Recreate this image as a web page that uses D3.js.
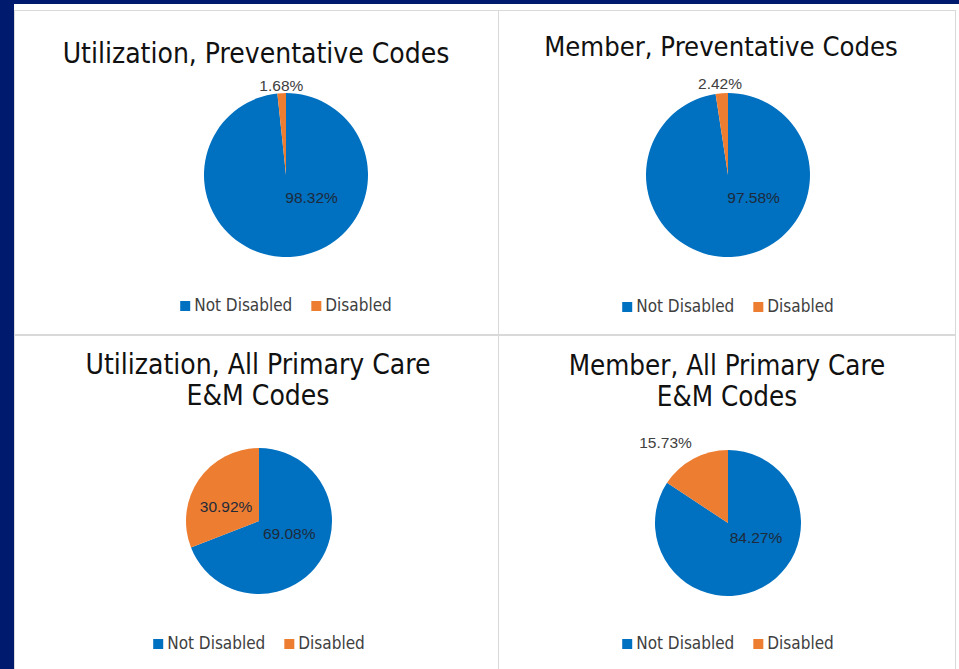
<!DOCTYPE html>
<html>
<head>
<meta charset="utf-8">
<script src="https://cdn.jsdelivr.net/npm/d3@7"></script>
<style>
  html, body { margin: 0; padding: 0; background: #001a6e; }
  svg { display: block; }
</style>
</head>
<body>
<script>
// four pie charts, disabled vs not disabled members

var categories = ["Not Disabled", "Disabled"];
var titles = [
    ["Utilization, Preventative Codes"],
    ["Member, Preventative Codes"],
    ["Utilization, All Primary Care", "E&M Codes"],
    ["Member, All Primary Care", "E&M Codes"]
];
var notDisabled = [98.32, 97.58, 69.08, 84.27];
var disabled = [1.68, 2.42, 30.92, 15.73];

var colors = ["#0070c0", "#ed7d31"];
var width = 959;
var height = 669;

// panel frames and pie placement
var panels = [
    { x: 14, y: 10, w: 484, h: 324, cx: 286, cy: 175, r: 82, titleX: 256, titleY: 63, titleSize: 28, legendY: 305,
      labels: [[132, 0.42], [357, 1.09]] },
    { x: 498, y: 10, w: 457, h: 324, cx: 728, cy: 175, r: 82, titleX: 721, titleY: 56, titleSize: 27.2, legendY: 306,
      labels: [[132, 0.42], [355, 1.12]] },
    { x: 14, y: 335, w: 484, h: 334, cx: 259, cy: 521, r: 73, titleX: 258, titleY: 374, titleSize: 28, legendY: 643,
      labels: [[113, 0.45], [293, 0.49]] },
    { x: 498, y: 335, w: 457, h: 334, cx: 728, cy: 523, r: 73, titleX: 727, titleY: 375, titleSize: 27.5, legendY: 643,
      labels: [[117, 0.43], [322, 1.39]] }
];

var titleFont = "'DejaVu Sans Condensed', 'DejaVu Sans', sans-serif";
var labelFont = "'Liberation Sans', Arial, sans-serif";

var svg = d3.select("body")
    .append("svg")
    .attr("width", width)
    .attr("height", height);

// white sheet behind the charts
svg.append("rect")
    .attr("x", 14)
    .attr("y", 4)
    .attr("width", width - 14)
    .attr("height", height - 4)
    .attr("fill", "#ffffff");

var pie = d3.pie().sort(null).value(function (d) { return d; });

panels.forEach(function (p, i) {
    var g = svg.append("g");

    g.append("rect")
        .attr("x", p.x + 0.5)
        .attr("y", p.y + 0.5)
        .attr("width", p.w)
        .attr("height", p.h)
        .attr("fill", "#ffffff")
        .attr("stroke", "#d9d9d9");

    // title
    g.append("text")
        .attr("x", p.titleX)
        .attr("y", p.titleY)
        .attr("text-anchor", "middle")
        .style("font-family", titleFont)
        .style("font-size", p.titleSize + "px")
        .attr("fill", "#111")
        .selectAll("tspan")
        .data(titles[i])
        .enter()
        .append("tspan")
        .attr("x", p.titleX)
        .attr("dy", function (d, j) { return j === 0 ? 0 : 31; })
        .text(function (d) { return d; });

    var values = [notDisabled[i], disabled[i]];
    var arcs = pie(values);
    var arc = d3.arc().innerRadius(0).outerRadius(p.r);

    var pg = g.append("g")
        .attr("transform", "translate(" + p.cx + "," + p.cy + ")");

    pg.selectAll("path")
        .data(arcs)
        .enter()
        .append("path")
        .attr("d", arc)
        .attr("fill", function (d, j) { return colors[j]; });

    // data labels, placed like excel's best fit
    pg.selectAll("text")
        .data(arcs)
        .enter()
        .append("text")
        .attr("x", function (d, j) {
            var a = p.labels[j][0] * Math.PI / 180;
            return Math.sin(a) * p.labels[j][1] * p.r;
        })
        .attr("y", function (d, j) {
            var a = p.labels[j][0] * Math.PI / 180;
            return -Math.cos(a) * p.labels[j][1] * p.r;
        })
        .attr("dy", "0.35em")
        .attr("text-anchor", "middle")
        .style("font-family", labelFont)
        .style("font-size", "15.5px")
        .attr("fill", function (d, j) { return p.labels[j][1] > 1 ? "#404040" : "#1e2a3a"; })
        .text(function (d) { return d.data.toFixed(2) + "%"; });

    // legend
    var lg = g.append("g");
    var items = lg.selectAll("g")
        .data(categories)
        .enter()
        .append("g");
    items.append("rect")
        .attr("width", 10)
        .attr("height", 10)
        .attr("y", -10)
        .attr("fill", function (d, j) { return colors[j]; });
    items.append("text")
        .attr("x", 14)
        .style("font-family", titleFont)
        .style("font-size", "17px")
        .attr("fill", "#404040")
        .text(function (d) { return d; });

    var gap = 19;
    var offset = 0;
    items.each(function () {
        d3.select(this).attr("transform", "translate(" + offset + ",0)");
        offset += this.getBBox().width + gap;
    });
    var total = offset - gap;
    lg.attr("transform", "translate(" + (p.cx - total / 2) + "," + (p.legendY + 6) + ")");
});
</script>
</body>
</html>
